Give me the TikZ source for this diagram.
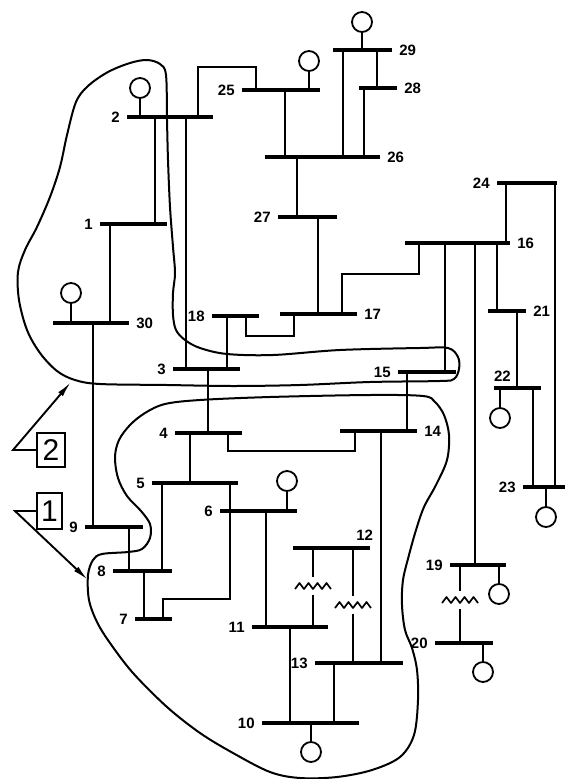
\documentclass[tikz,border=0pt]{standalone}
\usepackage{fontspec}
\setmainfont{Liberation Sans}
\usetikzlibrary{positioning,arrows.meta}

\begin{document}
\begin{tikzpicture}[x=1pt,y=-1pt,
	bus/.style={fill=black,inner sep=0pt,minimum height=3.6pt},
	conn/.style={line width=1.9pt},
	gen/.style={circle,draw,line width=1.8pt,minimum size=20pt,inner sep=0pt},
	lbl/.style={font=\fontsize{15}{15}\selectfont\bfseries,inner sep=0pt},
	area/.style={line width=2pt},
	tag/.style={draw,line width=1.8pt,inner sep=0pt,font=\fontsize{30}{30}\selectfont},
	load/.style={inner sep=0pt,minimum width=40pt,minimum height=18pt,
		path picture={\draw[line width=1.7pt,line join=round]
			([xshift=2pt,yshift=-3pt]path picture bounding box.west)
			\foreach \k in {1,...,4}{-- ++(4.5pt,6pt) -- ++(4.5pt,-6pt)};}}
	]
	\useasboundingbox (0,0) rectangle (570,779);
	% buses
	\foreach \n/\x/\w/\y in {1/133.5/67/224, 2/170/86/117, 3/206.5/67/369, 4/208.5/67/433,
		5/195/86/483, 6/258.5/77/511, 7/153.5/37/619, 8/142.5/59/571, 9/114/58/527,
		10/310.5/97/723, 11/290/76/627, 12/331.5/77/548, 13/359/88/663, 14/378.5/77/431,
		15/427/58/372, 16/457.5/105/243, 17/318.5/77/314, 18/235.5/47/316, 19/478/56/565,
		20/464/58/643, 21/507/38/311, 22/517.5/47/388, 23/544/42/487, 24/527/60/183,
		25/281/78/90, 26/322.5/115/157, 27/307.5/59/217, 28/378/38/88, 29/362.5/59/50,
		30/91/76/323}
		\node[bus,minimum width=\w pt] (b\n) at (\x,\y) {};
	% bus numbers
	\foreach \n in {1,2,3,4,5,6,7,8,9,10,11,13,15,18,19,20,23,24,25,27}
		\node[lbl,left=7pt of b\n] (n\n) {\n};
	\foreach \n in {14,16,17,21,26,28,29,30}
		\node[lbl,right=7pt of b\n] (n\n) {\n};
	\node[lbl,above left=5pt and -3pt of b12.north east] (n12) {12};
	\node[lbl,above right=4pt and 0pt of b22.north west] (n22) {22};
	% generators
	\foreach \n/\x/\y in {2/140/88, 25/309/61, 29/362/22, 30/71/293, 6/287/481,
		10/311/752, 22/500/418, 23/546/517, 19/499/594, 20/483/672}
	{
		\node[gen] (g\n) at (\x,\y) {};
		\draw[conn] (g\n) -- (g\n |- b\n);
	}
	% straight lines
	\foreach \x/\a/\b in {155/2/1, 186/2/3, 285/25/26, 297/26/27, 318/27/17, 343/29/26,
		377/29/28, 364/28/26, 110/1/30, 93/30/9, 129/9/8, 144/8/7, 162/5/8, 190/4/5,
		208/3/4, 227/18/3, 266/6/11, 290/11/10, 334/13/10, 381/14/13, 407/15/14,
		445/16/15, 475/16/19, 497/16/21, 506/16/24, 555/24/23, 517/21/22, 533/22/23}
		\draw[conn] (\x,0 |- b\a) -- (\x,0 |- b\b);
	% bent lines
	\draw[conn] (198,0 |- b2) |- (256,67) -- (256,0 |- b25);
	\draw[conn] (230,0 |- b5) |- (163,599) -- (163,0 |- b7);
	\draw[conn] (228,0 |- b4) |- (355,451) -- (355,0 |- b14);
	\draw[conn] (342,0 |- b17) |- (419,274) -- (419,0 |- b16);
	\draw[conn] (246,0 |- b18) |- (294,336) -- (294,0 |- b17);
	% loads
	\node[load] (z1) at (313,586) {};
	\node[load] (z2) at (353,605) {};
	\node[load] (z3) at (460,600) {};
	\draw[conn] (z1) -- (z1 |- b12);
	\draw[conn] (z1) -- (z1 |- b11);
	\draw[conn] (z2) -- (z2 |- b12);
	\draw[conn] (z2) -- (z2 |- b13);
	\draw[conn] (z3) -- (z3 |- b19);
	\draw[conn] (z3) -- (z3 |- b20);
	% zone 2
	\draw[area] plot[smooth cycle,tension=0.55] coordinates {(166,75) (160,64) (147,60) (130,63)
		(108,72) (88,86) (76,102) (67,135) (60,167) (50,197) (37,227) (25,250) (18,272)
		(19,300) (27,330) (40,353) (57,371) (75,380) (100,384) (167,385) (233,386) (300,385)
		(370,382) (440,381) (454,379) (459,369) (458,357) (448,348) (420,348) (340,350)
		(273,355) (227,354) (200,348) (185,340) (176,330) (173,315) (173,293) (175,273)
		(173,247) (170,207) (168,160) (167,120)};
	% zone 1
	\draw[area] plot[smooth cycle,tension=0.55] coordinates {(200,400) (270,397) (370,395)
		(423,396) (435,402) (444,415) (449,435) (447,460) (436,485) (424,507) (416,530)
		(409,555) (403,580) (402,605) (405,630) (412,648) (417,670) (418,700) (414,735)
		(400,757) (372,770) (337,777) (300,778) (270,772) (233,753) (200,733) (167,707)
		(133,673) (110,643) (97,622) (89,600) (88,575) (93,560) (102,554) (128,552) (142,549)
		(150,538) (150,524) (141,511) (127,496) (118,478) (115,457) (119,440) (130,425)
		(145,413) (165,404)};
	% zone tags
	\node[tag,minimum width=28pt,minimum height=34pt] (t2) at (51,450) {2};
	\node[tag,minimum width=25pt,minimum height=36pt] (t1) at (49.5,511) {1};
	\coordinate (v2) at (13,450);
	\coordinate (a2) at (71,382);
	\coordinate (v1) at (15,511);
	\coordinate (a1) at (88,580);
	\draw[conn,-{Latex[length=16pt,width=6pt]}] (t2) -- (v2) -- (a2);
	\draw[conn,-{Latex[length=16pt,width=6pt]}] (t1) -- (v1) -- (a1);
\end{tikzpicture}
\end{document}
